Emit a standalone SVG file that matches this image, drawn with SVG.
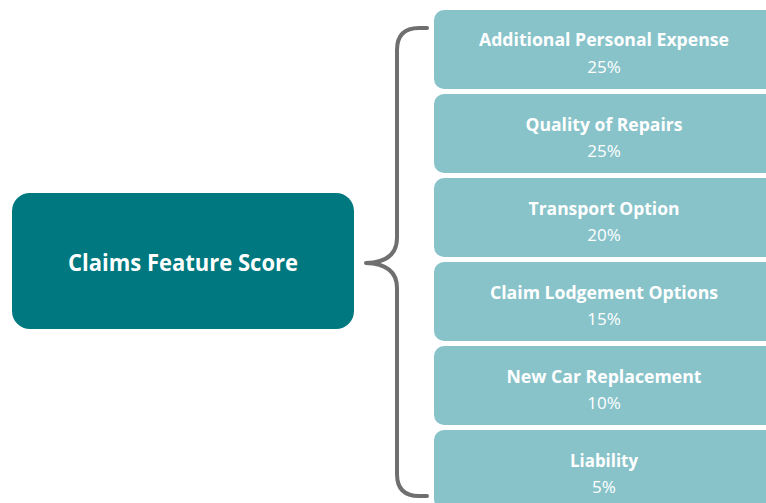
<svg xmlns="http://www.w3.org/2000/svg" width="766" height="503" viewBox="0 0 766 503">
  <style>
    .root { fill: #00787F; }
    .item { fill: #88C3CA; }
    .t { font-family: "Open Sans", "Liberation Sans", sans-serif; fill: #FFFFFF; text-anchor: middle; }
    .title { font-weight: bold; font-size: 18px; }
    .pct { font-size: 17px; }
    .main { font-weight: bold; font-size: 23px; }
    .brace { fill: none; stroke: #6F6F6F; stroke-width: 4; stroke-linecap: round; stroke-linejoin: round; }
  </style>
  <rect width="766" height="503" fill="#FFFFFF"/>

  <g id="connectors">
    <path class="brace" d="M427,28 L419,28 Q397,28 397,50 L397,238 Q397,262 366,263 Q397,264 397,288 L397,474 Q397,496 419,496 L427,496"/>
  </g>

  <g id="claims-feature-score">
    <rect class="root" x="12" y="193" width="342" height="136" rx="18"/>
    <text class="t main" x="183" y="271" textLength="230" lengthAdjust="spacingAndGlyphs">Claims Feature Score</text>
  </g>

  <g id="additional-personal-expense">
    <rect class="item" x="434" y="10" width="345" height="79" rx="10"/>
    <text class="t title" x="604" y="46" textLength="250" lengthAdjust="spacingAndGlyphs">Additional Personal Expense</text>
    <text class="t pct" x="604" y="73">25%</text>
  </g>

  <g id="quality-of-repairs">
    <rect class="item" x="434" y="94" width="345" height="79" rx="10"/>
    <text class="t title" x="604" y="131" textLength="157" lengthAdjust="spacingAndGlyphs">Quality of Repairs</text>
    <text class="t pct" x="604" y="157">25%</text>
  </g>

  <g id="transport-option">
    <rect class="item" x="434" y="178" width="345" height="79" rx="10"/>
    <text class="t title" x="604" y="215" textLength="151" lengthAdjust="spacingAndGlyphs">Transport Option</text>
    <text class="t pct" x="604" y="241">20%</text>
  </g>

  <g id="claim-lodgement-options">
    <rect class="item" x="434" y="262" width="345" height="79" rx="10"/>
    <text class="t title" x="604" y="299" textLength="228" lengthAdjust="spacingAndGlyphs">Claim Lodgement Options</text>
    <text class="t pct" x="604" y="325">15%</text>
  </g>

  <g id="new-car-replacement">
    <rect class="item" x="434" y="346" width="345" height="79" rx="10"/>
    <text class="t title" x="604" y="383" textLength="195" lengthAdjust="spacingAndGlyphs">New Car Replacement</text>
    <text class="t pct" x="604" y="409">10%</text>
  </g>

  <g id="liability">
    <rect class="item" x="434" y="430" width="345" height="79" rx="10"/>
    <text class="t title" x="604" y="467" textLength="68" lengthAdjust="spacingAndGlyphs">Liability</text>
    <text class="t pct" x="604" y="493">5%</text>
  </g>
</svg>
